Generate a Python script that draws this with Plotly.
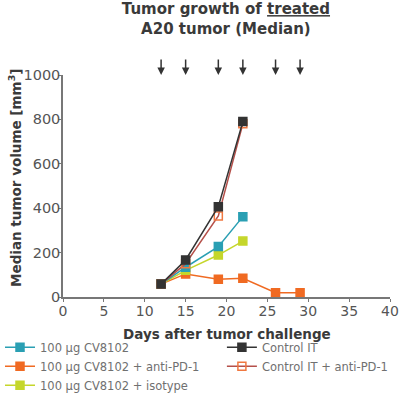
import plotly.graph_objects as go

# days of measurement and median tumor volumes (mm^3)
days_a = [12, 15, 19, 22]
days_b = [12, 15, 19, 22, 26, 29]
cv8102 = [58, 134, 227, 362]
control_it = [58, 167, 407, 790]
cv8102_pd1 = [58, 104, 80, 84, 19, 19]
control_pd1 = [58, 150, 365, 780]
cv8102_iso = [58, 120, 189, 252]
treatment_days = [12, 15, 19, 22, 26, 29]

FONT = "DejaVu Sans"
GREY = "#555555"
DARK = "#3a3a3a"

fig = go.Figure()


def add_series(x, y, name, color, line_color=None, fill=True, rank=1, legend="legend"):
    fig.add_trace(go.Scatter(
        x=x, y=y, name=name, mode="lines+markers", legendrank=rank, legend=legend,
        line=dict(color=line_color or color, width=1.5),
        marker=dict(symbol="square" if fill else "square-open", size=8,
                    color=color, line=dict(color=color, width=1.5)),
    ))


add_series(days_b, cv8102_pd1, "100 µg CV8102 + anti-PD-1", "#f06a22", rank=2)
add_series(days_a, cv8102_iso, "100 µg CV8102 + isotype", "#c5d62b", rank=3)
add_series(days_a, cv8102, "100 µg CV8102", "#2a9fb3", rank=1)
add_series(days_a, control_pd1, "Control IT + anti-PD-1", "#f07840",
           line_color="#b5504a", fill=False, rank=2, legend="legend2")
add_series(days_a, control_it, "Control IT", "#333333", rank=1, legend="legend2")

# treatment arrows above the plot
for d in treatment_days:
    fig.add_annotation(x=d, y=1000, xref="x", yref="y", text="",
                       showarrow=True, ax=0, ay=-17, arrowhead=2,
                       arrowsize=1, arrowwidth=1.5, arrowcolor="#333333")

# axis titles
fig.add_annotation(text="<b>Days after tumor challenge</b>", xref="paper", yref="paper",
                   x=0.5, y=-0.167, showarrow=False, xanchor="center", yanchor="middle",
                   font=dict(size=13.5, color=DARK))
fig.add_annotation(text="<b>Median tumor volume [mm<sup>3</sup>]</b>", xref="paper",
                   yref="paper", x=-0.147, y=0.536, textangle=-90, showarrow=False,
                   xanchor="center", yanchor="middle", font=dict(size=13.5, color=DARK))

legend_style = dict(orientation="v", xref="container", yref="container",
                    xanchor="left", y=0.172, yanchor="top",
                    font=dict(size=11.5, color="#707070"),
                    bgcolor="rgba(0,0,0,0)", tracegroupgap=0)

fig.update_layout(
    width=402, height=402,
    margin=dict(l=63, r=12, t=75, b=105, autoexpand=False),
    plot_bgcolor="white", paper_bgcolor="white",
    font=dict(family=FONT, color=GREY),
    title=dict(text="<b>Tumor growth of <u>treated</u><br>A20 tumor (Median)</b>",
               x=0.562, xanchor="center", y=0.965, yanchor="top",
               font=dict(size=15, color=DARK)),
    legend=dict(x=0.0, **legend_style),
    legend2=dict(x=0.552, **legend_style),
    showlegend=True,
)
fig.update_xaxes(
    range=[0, 40], tickvals=list(range(0, 45, 5)), showgrid=False, zeroline=False,
    showline=True, linecolor="#777777", linewidth=1.5,
    ticks="outside", ticklen=3, tickcolor="#777777", ticklabelstandoff=-3,
    tickfont=dict(size=14, color=GREY),
)
fig.update_yaxes(
    range=[0, 1000], tickvals=list(range(0, 1200, 200)), showgrid=False,
    zeroline=False, showline=True, linecolor="#777777", linewidth=1.5,
    ticks="outside", ticklen=3, tickcolor="#777777", ticklabelstandoff=-5,
    tickfont=dict(size=14.5, color=GREY),
)

fig.write_html("out.html", config={"displayModeBar": False},
               post_script="document.body.style.margin = '0';")
